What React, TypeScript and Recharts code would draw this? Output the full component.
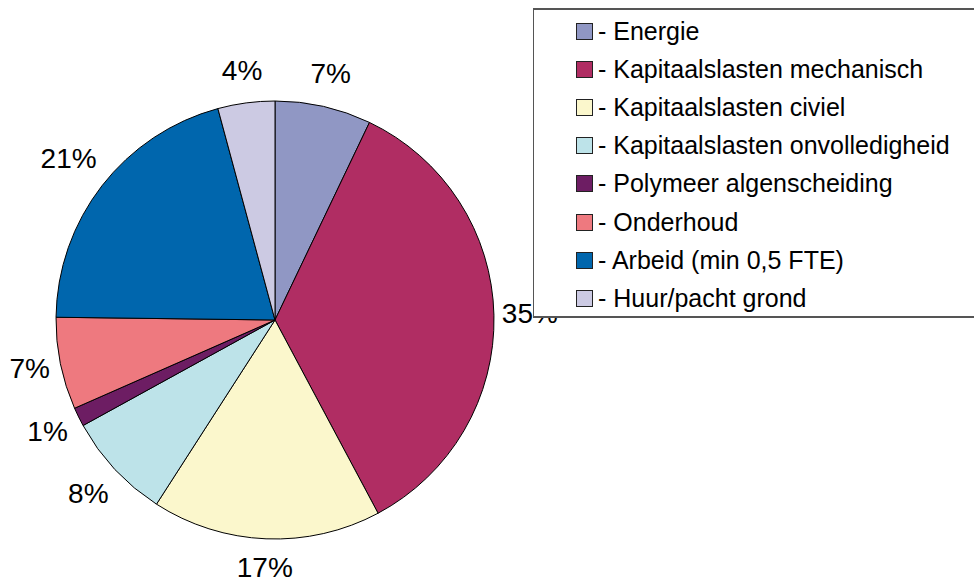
import React from 'react';
import { PieChart, Pie, Cell, Legend } from 'recharts';

const categories = [
  'Energie',
  'Kapitaalslasten mechanisch',
  'Kapitaalslasten civiel',
  'Kapitaalslasten onvolledigheid',
  'Polymeer algenscheiding',
  'Onderhoud',
  'Arbeid (min 0,5 FTE)',
  'Huur/pacht grond',
];

// share of total cost, in percent
const shares = [7.1, 35.1, 16.9, 7.9, 1.4, 6.8, 20.6, 4.2];

const sliceColors = [
  '#9097C4', // periwinkle
  '#B02D63', // wine
  '#FBF7CC', // cream
  '#BDE3E9', // light cyan
  '#6D1D63', // plum
  '#EE797F', // salmon
  '#0066AD', // blue
  '#CCCAE3', // lavender
];

const data = categories.map((name, i) => ({ name, value: shares[i] }));

const FONT = '"Liberation Sans", Arial, sans-serif';
const LABEL_SIZE = 28;

const RADIAN = Math.PI / 180;

// outside labels, pushed out a bit more the wider the text is (like Excel does)
const renderLabel = (props: any) => {
  const { cx, cy, midAngle, percent } = props;
  const text = `${Math.round(percent * 100)}%`;
  const digits = text.length - 1;
  const w = (0.556 * digits + 0.889) * LABEL_SIZE - 3;
  const c = Math.cos(-midAngle * RADIAN);
  const s = Math.sin(-midAngle * RADIAN);
  const r = 228 + (w / 2) * Math.abs(c) + 20 * Math.abs(s);
  return (
    <text
      x={cx + r * c}
      y={cy + r * s - 1}
      textAnchor="middle"
      dominantBaseline="central"
      fill="#000"
      fontSize={LABEL_SIZE}
      fontFamily={FONT}
    >
      {text}
    </text>
  );
};

const renderLegend = (props: any) => {
  // keep the legend in slice order, not alphabetical
  const payload = [...(props.payload || [])].sort(
    (a: any, b: any) => categories.indexOf(a.value) - categories.indexOf(b.value)
  );
  return (
    <div
      style={{
        boxSizing: 'border-box',
        width: 441,
        height: 310,
        background: '#fff',
        borderTop: '2px solid #555',
        borderLeft: '1px solid #555',
        borderBottom: '2px solid #555',
        paddingTop: 2,
        fontFamily: FONT,
        fontSize: 25,
        color: '#000',
      }}
    >
      {payload.map((entry: any) => (
        <div
          key={entry.value}
          style={{ height: 38.2, display: 'flex', alignItems: 'center' }}
        >
          <span
            style={{
              display: 'inline-block',
              boxSizing: 'border-box',
              width: 17,
              height: 17,
              marginLeft: 42,
              marginRight: 5,
              background: entry.color,
              border: '1px solid #222',
            }}
          />
          <span style={{ whiteSpace: 'nowrap' }}>- {entry.value}</span>
        </div>
      ))}
    </div>
  );
};

export default function App() {
  return (
    <div style={{ position: 'absolute', left: 0, top: 0, width: 974, height: 582, background: '#fff' }}>
      <PieChart width={974} height={582} margin={{ top: 0, right: 0, bottom: 0, left: 0 }}>
        <Pie
          data={data}
          dataKey="value"
          nameKey="name"
          cx={275}
          cy={320}
          outerRadius={219}
          startAngle={90}
          endAngle={-270}
          stroke="#000"
          strokeWidth={1}
          label={renderLabel}
          labelLine={false}
          isAnimationActive={false}
        >
          {data.map((d, i) => (
            <Cell key={d.name} fill={sliceColors[i]} />
          ))}
        </Pie>
        <Legend
          layout="vertical"
          align="right"
          verticalAlign="top"
          content={renderLegend}
          wrapperStyle={{ left: 533, top: 8, right: 'auto', width: 441, height: 310 }}
        />
      </PieChart>
    </div>
  );
}
